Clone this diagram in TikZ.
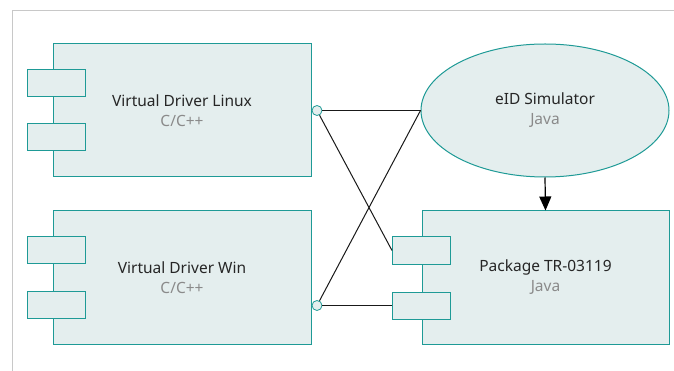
\documentclass[tikz,border=0pt]{standalone}
\usepackage{fontspec}
\setmainfont{Noto Sans}
\usepackage{xcolor}
\usepackage{tikz}
\usetikzlibrary{shapes,arrows.meta,positioning,calc}

\definecolor{boxfill}{HTML}{E4EEEE}
\definecolor{boxline}{HTML}{1E9A96}
\definecolor{subtext}{HTML}{8A8A8A}
\definecolor{framegray}{HTML}{C8C8C8}

\begin{document}
\begin{tikzpicture}[
    x=1pt, y=-1pt,
    every node/.style = {font=\fontsize{15.5}{20}\selectfont, text=black!85},
    comp/.style = {draw=boxline, fill=boxfill, line width=1pt, minimum width=258pt, minimum height=133pt, align=center, inner sep=0pt},
    port/.style = {draw=boxline, fill=boxfill, line width=1pt, minimum width=58pt, minimum height=27pt, inner sep=0pt},
    lolli/.style = {draw=boxline, fill=boxfill, line width=0.8pt, circle, minimum size=10pt, inner sep=0pt},
    sim/.style = {draw=boxline, fill=boxfill, line width=1pt, ellipse, minimum width=248pt, minimum height=133pt, align=center, inner sep=0pt}
  ]
  \useasboundingbox (0,0) rectangle (674,371);
  \draw[framegray, line width=1pt] (674,11) -- (12,11) -- (12,371);

  % components
  \node[comp] (lnx) at (182,110.5) {Virtual Driver Linux\\{\color{subtext}C/C++}};
  \node[port] (lnxa) at (56,83.5) {};
  \node[port] (lnxb) at (56,137.5) {};

  \node[comp] (win) at (182,277.5) {Virtual Driver Win\\{\color{subtext}C/C++}};
  \node[port] (wina) at (56,250) {};
  \node[port] (winb) at (56,304.5) {};

  \node[sim] (eid) at (545,110.5) {eID Simulator\\{\color{subtext}Java}};

  \node[comp, minimum width=247pt] (pkg) at (545.5,277.5) {Package TR-03119\\{\color{subtext}Java}};
  \node[port] (pkga) at (421.5,250.5) {};
  \node[port] (pkgb) at (421.5,305.5) {};

  % interfaces
  \node[lolli] (lnxif) at (317,110.5) {};
  \node[lolli] (winif) at (317,305.5) {};

  \draw[black!90, line width=1pt] (lnxif) -- (eid.west);
  \draw[black!90, line width=1pt] (lnxif) -- (pkga.west);
  \draw[black!90, line width=1pt] (winif) -- (pkgb.west);
  \draw[black!90, line width=1pt] (winif) -- (eid.west);

  \draw[-{Triangle[length=14pt,width=12pt]}, line width=1.2pt] (eid.south) -- (pkg.north);
\end{tikzpicture}
\end{document}
